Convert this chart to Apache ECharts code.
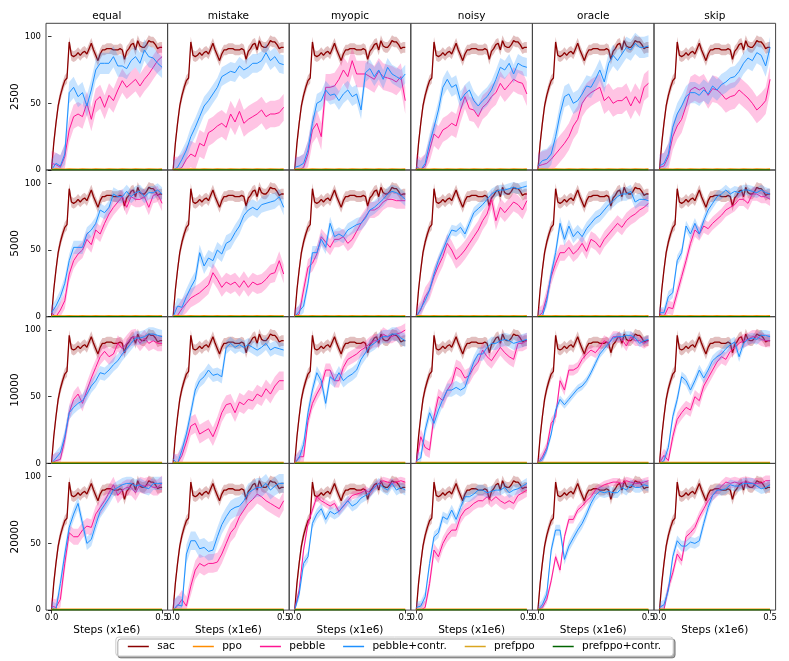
<!DOCTYPE html>
<html>
<head>
<meta charset="utf-8">
<script src="https://cdn.jsdelivr.net/npm/echarts@6/dist/echarts.min.js"></script>
<style>
  html, body { margin: 0; padding: 0; background: #fff; }
  #chart { width: 789px; height: 661px; }
</style>
</head>
<body>
<div id="chart"></div>
<script>
// column / row labels
var methods = ['equal', 'mistake', 'myopic', 'noisy', 'oracle', 'skip'];
var budgets = ['2500', '5000', '10000', '20000'];
var legendNames = ['sac', 'ppo', 'pebble', 'pebble+contr.', 'prefppo', 'prefppo+contr.'];

// steps (x1e6)
var stepsFine = [0, 0.01, 0.02, 0.03, 0.04, 0.05, 0.06, 0.07, 0.08, 0.09, 0.1, 0.11, 0.12, 0.13, 0.14, 0.15, 0.16,
  0.17, 0.18, 0.19, 0.2, 0.21, 0.22, 0.23, 0.24, 0.25, 0.26, 0.27, 0.28, 0.29, 0.3, 0.31, 0.32, 0.33, 0.34,
  0.35, 0.36, 0.37, 0.38, 0.39, 0.4, 0.41, 0.42, 0.43, 0.44, 0.45, 0.46, 0.47, 0.48, 0.49, 0.5];
var steps = [0, 0.02, 0.04, 0.06, 0.08, 0.1, 0.12, 0.14, 0.16, 0.18, 0.2, 0.22, 0.24, 0.26, 0.28, 0.3, 0.32,
  0.34, 0.36, 0.38, 0.4, 0.42, 0.44, 0.46, 0.48, 0.5];

// sac is the same baseline in every panel
var sac = [0, 20, 35, 48, 56, 62, 67, 69, 96, 86, 85, 86, 88, 86, 88, 89, 87, 91, 95, 90, 86, 82, 87, 90, 90, 91,
  91, 91, 90, 90, 90, 91, 90, 83, 89, 91, 94, 95, 90, 97, 93, 92, 92, 94, 97, 96, 96, 94, 91, 92, 92];
var sacSpread = 4;

// flat baselines
var ppo = [0.6, 0.7, 0.6, 0.6, 0.7, 0.6, 0.6, 0.7, 0.6, 0.6, 0.7, 0.6, 0.6, 0.7, 0.6, 0.6, 0.7, 0.6, 0.6, 0.7, 0.6, 0.6, 0.7, 0.6, 0.6, 0.7];
var prefppo = [0.3, 0.3, 0.4, 0.3, 0.3, 0.4, 0.3, 0.3, 0.4, 0.3, 0.3, 0.4, 0.3, 0.3, 0.4, 0.3, 0.3, 0.4, 0.3, 0.3, 0.4, 0.3, 0.3, 0.4, 0.3, 0.3];
var prefppoContr = [0.1, 0.1, 0.1, 0.1, 0.1, 0.1, 0.1, 0.1, 0.1, 0.1, 0.1, 0.1, 0.1, 0.1, 0.1, 0.1, 0.1, 0.1, 0.1, 0.1, 0.1, 0.1, 0.1, 0.1, 0.1, 0.1];

// pebble (pink) per budget, one array per method
var pebble2500 = [
  [5, 4, 2, 10, 30, 40, 42, 40, 50, 38, 52, 55, 47, 56, 52, 60, 67, 62, 65, 68, 63, 68, 72, 77, 82, 85],
  [0, 0, 2, 8, 12, 10, 20, 18, 28, 30, 33, 35, 32, 42, 36, 44, 35, 38, 40, 42, 45, 40, 42, 42, 43, 47],
  [0, 0, 2, 12, 30, 35, 25, 62, 62, 63, 68, 75, 70, 82, 72, 72, 72, 70, 68, 74, 70, 69, 68, 66, 70, 52],
  [3, 0, 3, 15, 27, 24, 30, 32, 35, 33, 45, 55, 46, 45, 40, 47, 50, 55, 58, 65, 60, 64, 68, 66, 65, 57],
  [3, 4, 5, 8, 12, 16, 20, 25, 33, 38, 50, 55, 58, 60, 62, 52, 55, 50, 52, 52, 55, 48, 55, 50, 62, 65],
  [2, 3, 10, 25, 33, 38, 48, 60, 62, 60, 62, 56, 61, 60, 57, 53, 55, 56, 60, 57, 54, 50, 45, 48, 52, 68]
];
var pebble5000 = [
  [3, 0, 5, 12, 32, 42, 47, 50, 58, 54, 65, 62, 70, 77, 82, 86, 90, 82, 90, 88, 88, 90, 82, 91, 92, 85],
  [0, 1, 6, 10, 14, 16, 18, 21, 24, 33, 28, 22, 26, 24, 26, 22, 27, 22, 26, 24, 25, 28, 32, 33, 42, 32],
  [0, 2, 20, 37, 40, 47, 60, 56, 52, 58, 58, 60, 55, 58, 64, 70, 75, 80, 80, 82, 86, 88, 88, 87, 87, 87],
  [0, 5, 15, 20, 30, 38, 45, 55, 50, 43, 46, 50, 55, 60, 65, 72, 77, 88, 72, 82, 78, 82, 86, 84, 80, 87],
  [0, 3, 15, 30, 40, 48, 48, 52, 47, 50, 55, 49, 58, 56, 52, 58, 62, 66, 70, 67, 72, 75, 77, 80, 82, 85],
  [2, 0, 7, 6, 18, 30, 42, 55, 65, 62, 68, 66, 70, 73, 76, 80, 82, 84, 88, 88, 85, 92, 92, 90, 90, 88]
];
var pebble10000 = [
  [0, 2, 3, 18, 38, 48, 52, 45, 55, 64, 72, 80, 84, 80, 82, 90, 86, 90, 94, 95, 90, 94, 90, 92, 90, 90],
  [0, 0, 6, 16, 28, 30, 22, 24, 26, 20, 28, 38, 44, 45, 38, 46, 44, 48, 47, 52, 50, 56, 52, 58, 62, 62],
  [0, 5, 5, 32, 45, 52, 58, 70, 70, 62, 62, 72, 78, 80, 82, 85, 87, 90, 92, 92, 97, 95, 95, 97, 98, 100],
  [0, 20, 12, 10, 35, 50, 47, 55, 60, 72, 70, 64, 66, 72, 76, 85, 80, 77, 82, 87, 83, 80, 78, 90, 90, 92],
  [0, 5, 12, 30, 35, 62, 55, 70, 70, 72, 78, 82, 85, 83, 87, 92, 90, 95, 95, 93, 88, 95, 92, 92, 90, 92],
  [0, 6, 2, 20, 33, 38, 42, 40, 50, 47, 58, 64, 70, 76, 80, 78, 84, 87, 90, 92, 93, 95, 95, 93, 92, 92]
];
var pebble20000 = [
  [3, 2, 8, 35, 58, 55, 55, 60, 63, 62, 72, 77, 82, 88, 94, 86, 90, 92, 92, 88, 94, 93, 94, 92, 92, 95],
  [0, 3, 8, 3, 18, 30, 35, 33, 35, 35, 36, 42, 50, 58, 62, 70, 75, 80, 83, 87, 85, 82, 80, 78, 76, 82],
  [0, 15, 45, 65, 75, 85, 82, 80, 78, 80, 74, 78, 82, 86, 87, 88, 90, 88, 92, 95, 97, 96, 95, 96, 97, 96],
  [0, 0, 2, 20, 45, 40, 50, 56, 60, 60, 70, 75, 77, 80, 82, 82, 85, 82, 85, 82, 80, 82, 80, 86, 88, 90],
  [0, 2, 8, 22, 40, 30, 55, 68, 68, 75, 78, 82, 85, 90, 92, 94, 95, 96, 96, 95, 97, 96, 95, 95, 96, 97],
  [0, 0, 17, 28, 42, 37, 55, 58, 62, 70, 76, 82, 86, 89, 93, 96, 95, 96, 95, 96, 96, 95, 95, 95, 97, 97]
];

// pebble+contr. (blue) per budget
var contr2500 = [
  [0, 5, 3, 12, 58, 62, 55, 58, 48, 60, 75, 80, 80, 80, 85, 78, 78, 76, 82, 85, 80, 90, 85, 84, 80, 77],
  [0, 2, 8, 15, 25, 32, 40, 48, 52, 57, 62, 70, 72, 74, 73, 78, 75, 77, 80, 80, 82, 88, 82, 85, 80, 79],
  [2, 3, 5, 15, 35, 50, 52, 60, 56, 57, 52, 57, 60, 55, 57, 45, 73, 76, 70, 75, 68, 77, 72, 70, 68, 72],
  [2, 0, 5, 20, 32, 45, 62, 68, 62, 64, 52, 57, 60, 52, 48, 52, 55, 60, 68, 77, 75, 80, 72, 80, 78, 77],
  [3, 7, 8, 12, 25, 42, 55, 57, 50, 52, 57, 63, 62, 68, 75, 66, 80, 86, 82, 87, 92, 90, 95, 92, 92, 93],
  [3, 5, 12, 32, 42, 48, 55, 58, 58, 56, 60, 57, 63, 60, 64, 66, 69, 70, 74, 80, 84, 82, 88, 86, 78, 92]
];
var contr5000 = [
  [3, 8, 15, 25, 42, 52, 52, 52, 62, 65, 70, 80, 78, 82, 92, 90, 90, 94, 90, 93, 94, 90, 93, 93, 95, 92],
  [0, 8, 7, 15, 22, 28, 48, 38, 44, 42, 50, 47, 55, 57, 63, 68, 76, 80, 82, 80, 84, 85, 86, 87, 90, 82],
  [0, 4, 8, 25, 48, 48, 58, 52, 70, 60, 62, 60, 65, 67, 69, 70, 74, 80, 82, 85, 88, 92, 94, 93, 91, 88],
  [0, 6, 12, 20, 32, 42, 50, 58, 65, 64, 67, 62, 70, 78, 81, 84, 88, 92, 94, 95, 95, 96, 97, 96, 97, 98],
  [0, 0, 12, 32, 48, 70, 58, 68, 60, 64, 60, 66, 70, 74, 76, 80, 84, 87, 90, 92, 92, 94, 86, 88, 88, 87],
  [3, 3, 15, 18, 42, 48, 68, 62, 70, 62, 72, 80, 85, 90, 92, 95, 92, 94, 93, 95, 95, 94, 93, 95, 93, 92]
];
var contr10000 = [
  [0, 4, 8, 20, 38, 42, 45, 47, 52, 58, 62, 68, 67, 70, 74, 77, 82, 86, 90, 94, 94, 95, 97, 97, 96, 95],
  [3, 0, 10, 22, 38, 55, 62, 65, 70, 66, 67, 65, 87, 90, 87, 89, 87, 89, 87, 85, 87, 90, 85, 87, 86, 85],
  [0, 4, 14, 38, 55, 68, 62, 45, 65, 62, 68, 62, 65, 67, 70, 78, 83, 88, 90, 93, 95, 95, 97, 97, 94, 92],
  [2, 4, 25, 38, 30, 40, 48, 55, 55, 57, 55, 57, 67, 76, 82, 82, 87, 90, 90, 92, 93, 92, 90, 91, 92, 93],
  [0, 3, 10, 22, 40, 48, 44, 48, 52, 56, 58, 62, 68, 75, 82, 86, 90, 94, 95, 95, 96, 96, 94, 90, 92, 93],
  [0, 2, 12, 35, 48, 65, 62, 55, 62, 70, 64, 70, 77, 80, 82, 86, 89, 91, 80, 90, 93, 94, 93, 96, 96, 95]
];
var contr20000 = [
  [2, 0, 20, 42, 62, 72, 80, 65, 50, 53, 64, 74, 79, 84, 90, 92, 94, 95, 95, 93, 94, 92, 91, 95, 95, 95],
  [0, 4, 3, 42, 52, 52, 46, 47, 44, 45, 55, 64, 70, 75, 77, 78, 82, 88, 90, 92, 92, 95, 90, 93, 95, 95],
  [0, 12, 35, 40, 65, 72, 76, 68, 74, 72, 74, 78, 82, 78, 80, 84, 86, 88, 92, 95, 92, 90, 95, 90, 92, 90],
  [2, 3, 10, 35, 55, 58, 70, 68, 75, 68, 77, 85, 85, 87, 90, 90, 88, 89, 90, 90, 92, 88, 90, 91, 93, 95],
  [0, 4, 12, 45, 60, 60, 38, 48, 54, 60, 65, 72, 80, 86, 89, 88, 89, 88, 88, 92, 90, 94, 92, 92, 94, 93],
  [2, 4, 15, 40, 52, 48, 48, 51, 50, 52, 65, 77, 86, 90, 90, 91, 94, 93, 93, 95, 95, 95, 93, 91, 92, 94]
];

// half-width of the shaded bands
var pebbleSpread = [[9, 10, 10, 9, 10, 10], [6, 7, 6, 7, 6, 5], [6, 7, 5, 6, 4, 5], [6, 7, 3, 5, 3, 4]];
var contrSpread = [[8, 7, 7, 7, 8, 8], [5, 6, 5, 4, 5, 4], [5, 5, 5, 5, 3, 4], [5, 7, 4, 4, 4, 4]];

var pebbleRows = [pebble2500, pebble5000, pebble10000, pebble20000];
var contrRows = [contr2500, contr5000, contr10000, contr20000];

var colors = {
  sac: '#8b0000', ppo: '#ff8c00', pebble: '#ff1493',
  contr: '#1e90ff', prefppo: '#daa520', prefppoContr: '#006400'
};
var font = 'DejaVu Sans';

var colLeft = 46, colW = 121.6, rowTop = 23.3, rowH = 146.7;

var grids = [], xAxes = [], yAxes = [], series = [], graphics = [];

function pairs(xs, ys) {
  return xs.map(function (x, i) { return [x, ys[i]]; });
}

function addLine(name, g, xs, ys, color, width, z) {
  series.push({
    type: 'line', name: name, xAxisIndex: g, yAxisIndex: g,
    data: pairs(xs, ys), symbol: 'none', silent: true, z: z,
    lineStyle: { color: color, width: width }, itemStyle: { color: color }
  });
}

// shaded band drawn as one polygon through the axis scales
function addBand(key, g, xs, ys, s, color, z) {
  var data = xs.map(function (x, i) { return [x, Math.max(0, ys[i] - s), ys[i] + s]; });
  series.push({
    type: 'custom', name: key + '-band', xAxisIndex: g, yAxisIndex: g,
    data: data, silent: true, z: z, clip: true,
    encode: { x: 0, y: [1, 2] },
    renderItem: function (params, api) {
      if (params.dataIndex !== 0) return null;
      var pts = [];
      for (var i = 0; i < data.length; i++) pts.push(api.coord([data[i][0], data[i][2]]));
      for (var j = data.length - 1; j >= 0; j--) pts.push(api.coord([data[j][0], data[j][1]]));
      return {
        type: 'polygon',
        shape: { points: pts },
        style: { fill: color, opacity: 0.25 }
      };
    }
  });
}

for (var r = 0; r < 4; r++) {
  for (var c = 0; c < 6; c++) {
    var g = r * 6 + c;
    grids.push({
      left: colLeft + c * colW, top: rowTop + r * rowH, width: colW, height: rowH,
      show: true, borderColor: '#444', borderWidth: 1, backgroundColor: 'transparent'
    });
    var bottom = r === 3;
    xAxes.push({
      type: 'value', gridIndex: g, min: -0.025, max: 0.525,
      splitLine: { show: false }, axisLine: { show: false },
      axisTick: { show: bottom, customValues: [0, 0.5], length: 3.5, lineStyle: { color: '#000', width: 0.8 } },
      axisLabel: {
        show: bottom, customValues: [0, 0.5], margin: 3,
        formatter: function (v) { return v.toFixed(1); },
        fontSize: 8.5, fontFamily: font, color: '#000'
      },
      name: bottom ? 'Steps (x1e6)' : '', nameLocation: 'middle', nameGap: 15,
      nameTextStyle: { fontSize: 10.5, fontFamily: font, color: '#000' }
    });
    var first = c === 0;
    yAxes.push({
      type: 'value', gridIndex: g, min: 0, max: 110,
      splitLine: { show: false }, axisLine: { show: false },
      axisTick: { show: first, customValues: [0, 50, 100], length: 3.5, lineStyle: { color: '#000', width: 0.8 } },
      axisLabel: {
        show: first, customValues: [0, 50, 100], margin: 5,
        fontSize: 8.5, fontFamily: font, color: '#000'
      },
      name: first ? budgets[r] : '', nameLocation: 'middle', nameGap: 24, nameRotate: 90,
      nameTextStyle: { fontSize: 10.5, fontFamily: font, color: '#000' }
    });

    addBand('sac', g, stepsFine, sac, sacSpread, colors.sac, 1);
    addLine('sac', g, stepsFine, sac, colors.sac, 1.3, 2);
    addBand('pebble', g, steps, pebbleRows[r][c], pebbleSpread[r][c], colors.pebble, 3);
    addLine('pebble', g, steps, pebbleRows[r][c], colors.pebble, 1, 4);
    addBand('contr', g, steps, contrRows[r][c], contrSpread[r][c], colors.contr, 5);
    addLine('pebble+contr.', g, steps, contrRows[r][c], colors.contr, 1, 6);
    addLine('ppo', g, steps, ppo, colors.ppo, 1.5, 7);
    addLine('prefppo', g, steps, prefppo, colors.prefppo, 1.2, 7);
    addLine('prefppo+contr.', g, steps, prefppoContr, colors.prefppoContr, 1.2, 7);
  }
}

// column titles
methods.forEach(function (m, c) {
  graphics.push({
    type: 'text', x: colLeft + colW * (c + 0.5), y: 16,
    style: { text: m, fontSize: 10.5, fontFamily: font, fill: '#000', textAlign: 'center', textVerticalAlign: 'middle' }
  });
});

var chart = echarts.init(document.getElementById('chart'));
chart.setOption({
  animation: false,
  backgroundColor: '#fff',
  grid: grids,
  xAxis: xAxes,
  yAxis: yAxes,
  series: series,
  graphic: graphics,
  legend: {
    data: legendNames,
    left: 'center', top: 637,
    icon: 'rect', itemWidth: 21, itemHeight: 1.5, itemGap: 18,
    formatter: function (n) { return ' ' + n; },
    textStyle: { fontSize: 10.5, fontFamily: font, color: '#000' },
    padding: [4, 12],
    backgroundColor: '#fff', borderColor: '#ccc', borderWidth: 1, borderRadius: 3,
    shadowColor: 'rgba(0,0,0,0.35)', shadowOffsetX: 2, shadowOffsetY: 2, shadowBlur: 0,
    selectedMode: false
  }
});
</script>
</body>
</html>
